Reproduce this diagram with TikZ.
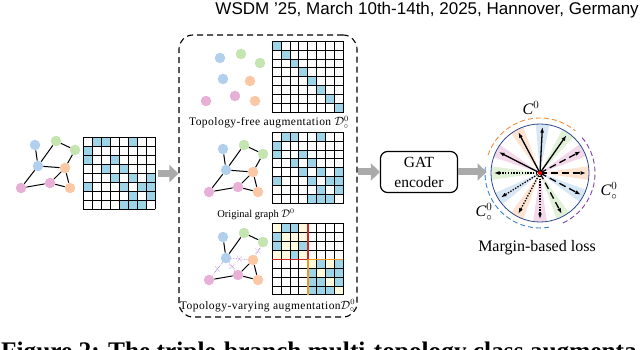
\documentclass[tikz,border=0pt]{standalone}
\usepackage{fontspec}
\setmainfont{Liberation Serif}
\newfontfamily\headfont{Liberation Sans}
\newfontfamily\spacedfont[LetterSpace=4]{Liberation Serif}
\usetikzlibrary{positioning, arrows.meta, calc, shapes.misc}
\definecolor{NodeBlue}{RGB}{178,208,238}
\definecolor{NodeGreen}{RGB}{196,228,176}
\definecolor{NodeOrange}{RGB}{250,200,165}
\definecolor{NodePink}{RGB}{232,176,214}
\definecolor{CellBlue}{RGB}{158,212,232}
\definecolor{CellYellow}{RGB}{255,250,222}
\definecolor{BlockRed}{RGB}{214,36,36}
\definecolor{BlockOrange}{RGB}{247,150,30}
\definecolor{CutPurple}{RGB}{165,110,215}
\definecolor{RingBlue}{RGB}{44,72,140}
\definecolor{ArcOrange}{RGB}{240,140,60}
\definecolor{ArcPurple}{RGB}{128,64,176}
\definecolor{ArcBlue}{RGB}{60,130,200}
\definecolor{ArrowGray}{RGB}{170,170,170}
\tikzset{
  gnode/.style={circle, minimum size=10.5pt, inner sep=0pt},
  gedge/.style={line width=1pt, black},
  cut/.style={line width=0.6pt, CutPurple, densely dotted},
  xmark/.style={cross out, draw=CutPurple, minimum size=4pt, inner sep=0pt, line width=0.7pt},
  mat/.style={rectangle, minimum size=71.2pt, inner sep=0pt},
  gridline/.style={line width=0.9pt, black, line cap=rect},
  augbox/.style={rectangle, rounded corners=14pt, draw, line width=1.1pt, dash pattern=on 6pt off 4pt,
    minimum width=178pt, minimum height=282pt},
  enc/.style={rectangle, rounded corners=7pt, draw, line width=1.2pt, minimum width=77pt, minimum height=41pt,
    align=center, font=\fontsize{15.5}{20}\selectfont},
  lbl/.style={anchor=base, inner sep=0pt, font=\spacedfont\fontsize{11.5}{13}\selectfont},
  big/.style={-{Triangle[width=17pt,length=9pt]}, line width=7pt, ArrowGray},
  vec/.style={-{Latex[length=5.5pt,width=4pt]}, line width=1.3pt, black},
}
\newcommand{\cellsz}{8.9}
\newcommand{\graphnodes}[3]{%
  \node[gnode, fill=NodeBlue] (#1b1) at (#2,#3) {};
  \node[gnode, fill=NodeGreen] (#1g1) at (#2+21,#3-4) {};
  \node[gnode, fill=NodeGreen] (#1g2) at (#2+40,#3+5) {};
  \node[gnode, fill=NodeBlue] (#1b2) at (#2+3,#3+21) {};
  \node[gnode, fill=NodeOrange] (#1o1) at (#2+30,#3+23) {};
  \node[gnode, fill=NodePink] (#1p1) at (#2-14,#3+43) {};
  \node[gnode, fill=NodePink] (#1p2) at (#2+15,#3+38) {};
  \node[gnode, fill=NodeOrange] (#1o2) at (#2+35,#3+43) {};}
\newcommand{\matcells}[3]{%
  \begin{scope}[shift={(#1.north west)}]
    \foreach \r/\c in #3 \fill[#2] (\c*\cellsz,\r*\cellsz) rectangle ++(\cellsz,\cellsz);
  \end{scope}}
\newcommand{\matgrid}[1]{%
  \begin{scope}[shift={(#1.north west)}]
    \foreach \i in {0,...,8} {\draw[gridline] (\i*\cellsz,0) -- (\i*\cellsz,8*\cellsz);
      \draw[gridline] (0,\i*\cellsz) -- (8*\cellsz,\i*\cellsz);}
  \end{scope}}
\newcommand{\adjlist}{0/1,0/2,0/5,1/0,2/0,2/3,3/2,3/4,4/3,4/5,4/7,5/0,5/4,5/6,5/7,6/5,6/7,7/4,7/5,7/6}

\begin{document}
\begin{tikzpicture}[x=1pt, y=-1pt]
  \useasboundingbox (0,0) rectangle (640,350);
  \clip (0,0) rectangle (640,350);
  \node[anchor=base east, inner sep=0pt, font=\headfont\fontsize{17}{19}\selectfont] (hdr) at (639,15)
    {WSDM ’25, March 10th-14th, 2025, Hannover, Germany};
  \node[anchor=base west, inner sep=0pt, font=\bfseries\fontsize{25.3}{28}\selectfont] (cap) at (1,359)
    {Figure 2: The triple-branch multi-topology class augmenta};

  % input graph
  \graphnodes{L}{35}{145}
  \foreach \u/\v in {b1/b2, g1/b2, g1/g2, b2/o1, g2/o1, b2/p1, p1/p2, p2/o1, p2/o2, o1/o2} \draw[gedge] (L\u) -- (L\v);
  \node[mat] (m0) at (119.6,173.6) {};
  \matcells{m0}{CellBlue}{\adjlist}
  \matgrid{m0}

  % three branches
  \node[augbox] (aug) at (268,176) {};
  \graphnodes{T}{220}{58}
  \node[mat] (m1) at (308,77) {};
  \matcells{m1}{CellBlue}{{0/0,1/1,2/2,3/3,4/4,5/5,6/6,7/7}}
  \matgrid{m1}
  \node[lbl] (l1) at (269,126) {Topology-free augmentation $\mathcal{D}^{0}_{\circ}$};

  \graphnodes{M}{223}{149}
  \foreach \u/\v in {b1/b2, g1/b2, g1/g2, b2/o1, g2/o1, b2/p1, p1/p2, p2/o1, p2/o2, o1/o2} \draw[gedge] (M\u) -- (M\v);
  \node[mat] (m2) at (308,168) {};
  \matcells{m2}{CellBlue}{\adjlist}
  \matgrid{m2}
  \node[lbl, font=\fontsize{10.5}{12}\selectfont] (l2) at (256,217) {Original graph $\mathcal{D}^{0}$};

  \graphnodes{B}{223}{237}
  \foreach \u/\v in {b1/b2, g1/b2, g1/g2, p1/p2, p2/o1, p2/o2, o1/o2} \draw[gedge] (B\u) -- (B\v);
  \foreach \u/\v [count=\k] in {b2/p1, b2/p2, b2/o1, g2/o1} \draw[cut] (B\u) -- node[xmark] (x\k) {} (B\v);
  \node[mat] (m3) at (308,259.5) {};
  \begin{scope}[shift={(m3.north west)}]
    \fill[CellYellow] (0,0) rectangle (4*\cellsz,4*\cellsz) (4*\cellsz,4*\cellsz) rectangle (8*\cellsz,8*\cellsz);
  \end{scope}
  \matcells{m3}{CellBlue}{{0/1,0/2,1/0,2/0,2/3,3/2,4/5,4/7,5/4,5/6,5/7,6/4,6/5,6/7,7/4,7/5,7/6}}
  \matgrid{m3}
  \begin{scope}[shift={(m3.north west)}, line width=1.6pt]
    \draw[BlockRed] (4*\cellsz,0) -- (4*\cellsz,4*\cellsz) -- (0,4*\cellsz);
    \draw[BlockOrange] (4*\cellsz,8*\cellsz) -- (4*\cellsz,4*\cellsz) -- (8*\cellsz,4*\cellsz);
  \end{scope}
  \node[lbl] (l3) at (267.5,309) {Topology-varying augmentation$\mathcal{D}^{0}_{\circ}$};

  % encoder and loss
  \node[enc] (gat) at (419,172) {GAT\\encoder};
  \coordinate (lc) at (540,173);
  \foreach \a/\col in {0/NodeOrange,28/NodePink,55/NodeGreen,87/NodeBlue,118/NodeOrange,153/NodePink,
    180/NodeGreen,212/NodeBlue,242/NodeOrange,270/NodePink,298/NodeGreen,332/NodeBlue}
    \fill[\col, opacity=0.5] (lc) -- ($(lc)+(\a-8:49pt)$) -- ($(lc)+(\a+8:49pt)$) -- cycle;
  \node[circle, draw=RingBlue, line width=0.8pt, minimum size=98pt, inner sep=0pt] (loss) at (lc) {};
  \foreach \a in {153,118,87,55} {\coordinate (s\a) at ($(lc)+(\a:46pt)$); \draw[vec] (lc) -- (s\a);}
  \foreach \a in {28,0,332,298} {\coordinate (d\a) at ($(lc)+(\a:46pt)$); \draw[vec, dash pattern=on 7pt off 4pt] (lc) -- (d\a);}
  \foreach \a in {180,270,242,212} {\coordinate (o\a) at ($(lc)+(\a:46pt)$); \draw[vec, dash pattern=on 1.4pt off 1.4pt] (lc) -- (o\a);}
  \node[circle, fill=red, minimum size=4pt, inner sep=0pt] (ctr) at (lc) {};
  \draw[ArcOrange, line width=0.9pt, dash pattern=on 5pt off 3pt] ($(lc)+(161:55pt)$) arc[start angle=161, end angle=50, radius=55pt];
  \draw[ArcPurple, line width=0.9pt, dash pattern=on 5pt off 3pt] ($(lc)+(40:55pt)$) arc[start angle=40, end angle=-68, radius=55pt];
  \draw[ArcBlue, line width=0.9pt, dash pattern=on 5pt off 3pt] ($(lc)+(174:55pt)$) arc[start angle=174, end angle=280, radius=55pt];
  \node[font=\fontsize{16}{18}\selectfont] (c0) at (531,108) {$\textit{C}^{0}$};
  \node[font=\fontsize{16}{18}\selectfont] (c1) at (609,191) {$\textit{C}^{0}_{\circ}$};
  \node[font=\fontsize{16}{18}\selectfont] (c2) at (484,212) {$\textit{C}^{0}_{\circ}$};
  \node[font=\fontsize{16}{18}\selectfont] (mbl) at (537,248) {Margin-based loss};

  \draw[big, shorten <=3pt] (m0.east) -- (aug.west |- m0.east);
  \draw[big] (aug.east |- gat.west) -- (gat.west);
  \draw[big, shorten >=4pt] (gat.east) -- (loss.west |- gat.east);
\end{tikzpicture}
\end{document}
